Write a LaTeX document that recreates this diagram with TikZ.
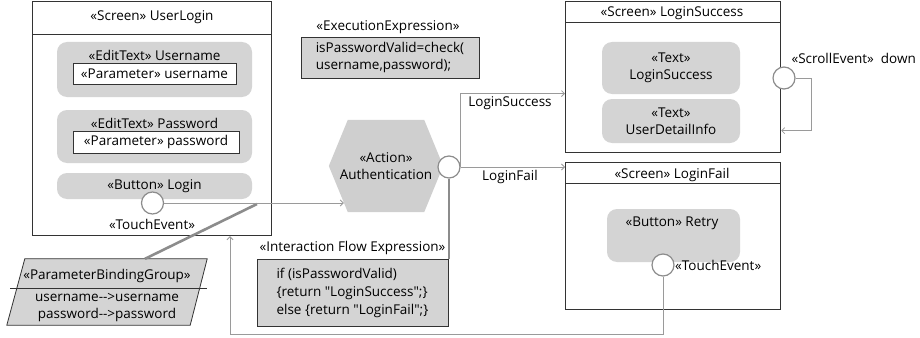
\documentclass[tikz,border=0pt]{standalone}
\usepackage{fontspec}
\setmainfont{Open Sans}[Ligatures=TeXOff]
\usetikzlibrary{arrows.meta}

\definecolor{widgetgray}{HTML}{D4D4D4}
\definecolor{actiongray}{HTML}{CFCFCF}
\definecolor{wiregray}{HTML}{9A9A9A}
\definecolor{bindgray}{HTML}{8C8C8C}
\definecolor{framegray}{HTML}{333333}

\tikzset{
  screen/.style={draw=framegray, line width=1.2pt, fill=white, anchor=north west, inner sep=0pt},
  widget/.style={fill=widgetgray, rounded corners=10pt, inner sep=0pt},
  param/.style={draw=framegray, fill=white, line width=0.9pt, inner sep=0pt},
  port/.style={circle, draw=gray!90, fill=white, line width=1.2pt, minimum size=22pt, inner sep=0pt},
  expr/.style={draw=framegray, fill=widgetgray, line width=0.8pt, align=left, inner sep=0pt},
  flow/.style={draw=wiregray, line width=0.8pt, -{Straight Barb[length=3pt,width=6pt]}},
  binding/.style={draw=bindgray, line width=2.6pt},
}

\begin{document}
\begin{tikzpicture}[x=1pt, y=-1pt, font=\fontsize{13.5}{16.5}\selectfont]
  \useasboundingbox (0,0) rectangle (920,337);

  % --- Screen UserLogin ---
  \node[screen, minimum width=239pt, minimum height=234pt] (userlogin) at (32,1) {};
  \node (userlogintitle) at (152,17) {«Screen» UserLogin};
  \draw[framegray, line width=1pt] ([yshift=-34pt]userlogin.north west) -- ([yshift=-34pt]userlogin.north east);

  \node[widget, minimum width=195pt, minimum height=55pt] (unamebox) at (154.5,69.5) {};
  \node (unamelbl) at (154.5,55) {«EditText» Username};
  \node[param, minimum width=163pt, minimum height=21pt] (unameparam) at (154.5,73.5) {«Parameter» username};

  \node[widget, minimum width=195pt, minimum height=53pt] (pwdbox) at (154.5,136.5) {};
  \node (pwdlbl) at (154.5,123) {«EditText» Password};
  \node[param, minimum width=166pt, minimum height=22pt] (pwdparam) at (156,142) {«Parameter» password};

  \node[widget, minimum width=195pt, minimum height=26pt] (loginbtn) at (154.5,186) {«Button» Login};
  \node[port] (lport) at (152.5,203) {};
  \node (ltouch) at (152,224) {«TouchEvent»};

  % --- Parameter binding (parallelogram drawn on the node's box) ---
  \node[minimum width=200pt, minimum height=66pt, inner sep=0pt] (pbg) at (107,292) {};
  \draw[framegray, fill=widgetgray, line width=0.8pt] (pbg.south west) -- ([xshift=18pt]pbg.north west)
    -- (pbg.north east) -- ([xshift=-17pt]pbg.south east) -- cycle;
  \node (pbgtitle) at (107,276) {«ParameterBindingGroup»};
  \draw[framegray, line width=0.8pt] (10,288) -- (207,288);
  \node[align=center] (pbgrows) at (107,307.5) {username-->username\\password-->password};
  \coordinate (bindpt) at (257,204);
  \draw[binding] (bindpt) -- ([xshift=38pt]pbg.north);

  % --- Action (hexagon drawn on the node's box) ---
  \node[minimum width=114pt, minimum height=92pt, inner sep=0pt] (auth) at (386,166) {};
  \fill[actiongray] (auth.west) -- ([xshift=19pt]auth.north west) -- ([xshift=-19pt]auth.north east)
    -- (auth.east) -- ([xshift=-19pt]auth.south east) -- ([xshift=19pt]auth.south west) -- cycle;
  \node[align=center] (authlbl) at (auth) {«Action»\\Authentication};
  \node[port] (aport) at (449,167) {};
  \draw[flow] (lport.east) -- ([xshift=15pt]lport.east -| auth.west);

  \node (exelbl) at (388,27) {«ExecutionExpression»};
  \node[expr, minimum width=178pt, minimum height=41pt] (exe) at (390,57.5)
    {isPasswordValid=check(\\username,password);};

  \node[expr, minimum width=191pt, minimum height=67pt, font=\fontsize{13.5}{18}\selectfont] (ifx) at (352.5,292.5)
    {if (isPasswordValid)\\\{return "LoginSuccess";\}\\else \{return "LoginFail";\}};
  \node[above=0pt] (ifxlbl) at (ifx.north) {«Interaction Flow Expression»};
  \draw[binding] (aport.south) -- (aport.south |- ifx.north);

  % --- Screen LoginSuccess ---
  \node[screen, minimum width=215pt, minimum height=151pt] (success) at (565,1) {};
  \node (successtitle) at (672,13) {«Screen» LoginSuccess};
  \draw[framegray, line width=1pt] ([yshift=-22pt]success.north west) -- ([yshift=-22pt]success.north east);
  \node[widget, minimum width=138pt, minimum height=52pt, align=center] (msgtext) at (671,68) {«Text»\\LoginSuccess};
  \node[widget, minimum width=138pt, minimum height=44pt, align=center] (infotext) at (671,121) {«Text»\\UserDetailInfo};
  \node[port] (sport) at (784,78) {};
  \node[anchor=west] (scrolllbl) at (788,58) {«ScrollEvent»\ \ down};
  \draw[flow] (sport.east) -- ++(16,0) |- ([yshift=-53.5pt]success.east);

  % --- Screen LoginFail ---
  \node[screen, minimum width=215pt, minimum height=147pt] (fail) at (565,162) {};
  \node (failtitle) at (672,175) {«Screen» LoginFail};
  \draw[framegray, line width=1pt] ([yshift=-21pt]fail.north west) -- ([yshift=-21pt]fail.north east);
  \node[widget, minimum width=133pt, minimum height=53pt] (retrybox) at (673.5,235.5) {};
  \node (retrylbl) at (672,223) {«Button» Retry};
  \node[port] (rport) at (663,265) {};
  \node[anchor=west, inner sep=1pt] (rtouch) at (674,265) {«TouchEvent»};

  % --- Transitions ---
  \draw[flow] (aport.east) |- ([yshift=-16.5pt]success.west);
  \draw[flow] (aport.east) -- (aport.east -| fail.west);
  \node (successlbl) at (510,103) {LoginSuccess};
  \node (faillbl) at (510,177) {LoginFail};

  \coordinate (ret) at (230,334);
  \draw[flow] (rport.south) |- (ret) -- (ret |- userlogin.south);
\end{tikzpicture}
\end{document}
